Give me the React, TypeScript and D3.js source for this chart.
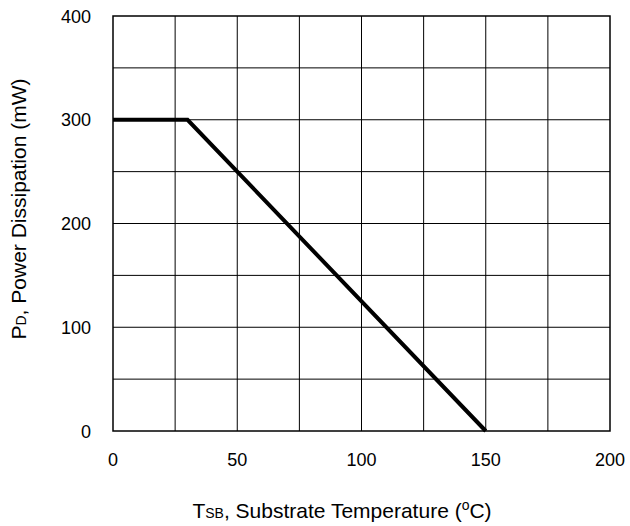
import * as d3 from "d3";

const xTicks = [0, 50, 100, 150, 200];
const yTicks = [0, 100, 200, 300, 400];
const xGrid = [25, 50, 75, 100, 125, 150, 175];
const yGrid = [50, 100, 150, 200, 250, 300, 350];
const tempC = [0, 30, 150];
const powerMW = [300, 300, 0];

export default function App() {
  const width = 630, height = 526;
  const margin = { top: 16, right: 20, bottom: 95, left: 113 };
  const x = d3.scaleLinear([0, 200], [margin.left, width - margin.right]);
  const y = d3.scaleLinear([0, 400], [height - margin.bottom, margin.top]);
  const line = d3.line<number>().x((d) => x(tempC[d])).y((d) => y(powerMW[d]));
  const font = "'Liberation Sans', Arial, sans-serif";

  return (
    <svg width={width} height={height} style={{ position: "absolute", left: 0, top: 0 }} fontFamily={font}>
      <rect width={width} height={height} fill="white" />
      <g stroke="#000" strokeWidth={1}>
        {xGrid.map((v) => <line key={"x" + v} x1={x(v)} x2={x(v)} y1={y(0)} y2={y(400)} />)}
        {yGrid.map((v) => <line key={"y" + v} y1={y(v)} y2={y(v)} x1={x(0)} x2={x(200)} />)}
      </g>
      <rect x={x(0)} y={y(400)} width={x(200) - x(0)} height={y(0) - y(400)} fill="none" stroke="#000" strokeWidth={1.5} />
      <path d={line(tempC.map((_, i) => i)) ?? ""} fill="none" stroke="#000" strokeWidth={4} strokeLinejoin="miter" />
      <g fontSize={18} fill="#000">
        {xTicks.map((v) => (
          <text key={v} x={x(v)} y={y(0) + 35} textAnchor="middle">{v}</text>
        ))}
        {yTicks.map((v) => (
          <text key={v} x={x(0) - 22} y={y(v) + 6.5} textAnchor="end">{v}</text>
        ))}
      </g>
      <text x={342} y={518} fontSize={21} textAnchor="middle">
        T<tspan fontSize={14}>SB</tspan>, Substrate Temperature (<tspan fontSize={14} dy={-8}>o</tspan><tspan dy={8}>C)</tspan>
      </text>
      <text transform={`translate(26,209) rotate(-90)`} fontSize={21} textAnchor="middle">
        P<tspan fontSize={14}>D</tspan>, Power Dissipation (mW)
      </text>
    </svg>
  );
}
